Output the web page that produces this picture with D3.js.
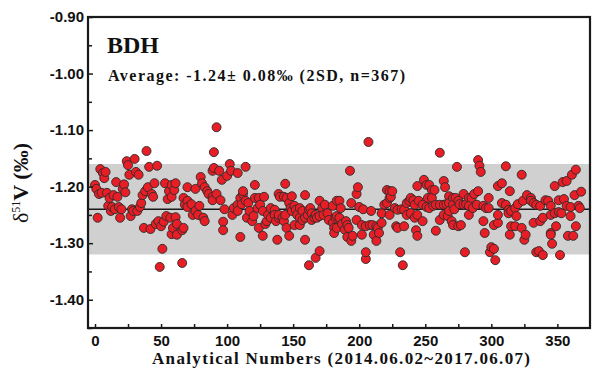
<!DOCTYPE html>
<html>
<head>
<meta charset="utf-8">
<script src="https://cdn.jsdelivr.net/npm/d3@7"></script>
<style>
  body { margin: 0; background: #fff; }
  .tick-label { font-family: "Liberation Sans", Arial, sans-serif; font-weight: bold; font-size: 15px; fill: #111; }
  .serif { font-family: "Liberation Serif", "Times New Roman", serif; font-weight: bold; fill: #111; }
</style>
</head>
<body>
<div id="chart"></div>
<script>
// Reference statistics
const average = -1.24;
const twoSD = 0.08;

// Axis ticks
const yMajorTicks = [-0.90, -1.00, -1.10, -1.20, -1.30, -1.40];
const yMinorTicks = [-0.95, -1.05, -1.15, -1.25, -1.35, -1.45];
const xTicks = [0, 25, 50, 75, 100, 125, 150, 175, 200, 225, 250, 275, 300, 325, 350];
const xLabelled = [0, 50, 100, 150, 200, 250, 300, 350];

// [analysis number, δ51V ‰]
const analyses = [
  [0,-1.197],[1,-1.204],[2,-1.255],[3,-1.213],[4,-1.169],[5,-1.211],[6,-1.176],[7,-1.185],[8,-1.174],[9,-1.211],
  [10,-1.234],[11,-1.220],[12,-1.243],[13,-1.236],[14,-1.215],[15,-1.240],[16,-1.192],[17,-1.218],[18,-1.236],[19,-1.255],
  [20,-1.240],[21,-1.204],[22,-1.196],[23,-1.210],[24,-1.155],[25,-1.162],[26,-1.179],[27,-1.252],[28,-1.240],[29,-1.243],
  [30,-1.151],[31,-1.174],[32,-1.243],[33,-1.179],[34,-1.236],[35,-1.229],[36,-1.215],[37,-1.273],[38,-1.208],[39,-1.137],
  [40,-1.201],[41,-1.165],[42,-1.275],[43,-1.213],[44,-1.218],[45,-1.194],[46,-1.266],[47,-1.163],[48,-1.261],[49,-1.342],
  [50,-1.270],[51,-1.310],[52,-1.262],[53,-1.194],[54,-1.252],[55,-1.222],[56,-1.208],
  [57,-1.255],[58,-1.197],[58,-1.218],[58,-1.284],[59,-1.273],[60,-1.206],[61,-1.194],[61,-1.254],[62,-1.266],[62,-1.285],
  [66,-1.277],[66,-1.335],[67,-1.273],[67,-1.220],[68,-1.232],[70,-1.201],[70,-1.225],[70,-1.236],[73,-1.231],[74,-1.250],
  [76,-1.243],[76,-1.204],[78,-1.250],[79,-1.234],[80,-1.183],[81,-1.194],[82,-1.255],[83,-1.201],[83,-1.261],[85,-1.208],
  [86,-1.213],[89,-1.218],[89,-1.224],[89,-1.172],[90,-1.139],[90,-1.167],[92,-1.213],[92,-1.095],[94,-1.172],[95,-1.224],
  [96,-1.188],[97,-1.262],[97,-1.277],[98,-1.240],[100,-1.181],[102,-1.160],[103,-1.172],[104,-1.250],[105,-1.238],[108,-1.176],
  [108,-1.232],[108,-1.243],[110,-1.220],[110,-1.289],[111,-1.231],[112,-1.213],[112,-1.208],[114,-1.165],[114,-1.225],[115,-1.255],
  [116,-1.229],[117,-1.243],[119,-1.261],[120,-1.252],[121,-1.220],[121,-1.197],
  [123,-1.238],[124,-1.220],[124,-1.273],[125,-1.232],[127,-1.243],[127,-1.287],[128,-1.218],[129,-1.266],[130,-1.261],[131,-1.250],
  [133,-1.255],[133,-1.238],[136,-1.241],[136,-1.250],[137,-1.261],[138,-1.294],[139,-1.255],[139,-1.250],[139,-1.213],[140,-1.218],
  [142,-1.255],[143,-1.218],[143,-1.261],[144,-1.195],[144,-1.250],[145,-1.220],[145,-1.273],[147,-1.229],[147,-1.287],[148,-1.238],
  [149,-1.217],[149,-1.243],[151,-1.234],[151,-1.268],[152,-1.241],[153,-1.250],[155,-1.255],[155,-1.268],[155,-1.238],[157,-1.243],
  [157,-1.259],[159,-1.215],[159,-1.255],[159,-1.294],[161,-1.250],[162,-1.241],[162,-1.339],[163,-1.238],[164,-1.247],[164,-1.259],
  [166,-1.255],[167,-1.250],[167,-1.326],[168,-1.255],[170,-1.252],[170,-1.225],[170,-1.314],[172,-1.238],[173,-1.250],[174,-1.232],
  [176,-1.247],[177,-1.259],[180,-1.264],[180,-1.234],[181,-1.273],[181,-1.282],[182,-1.255],[183,-1.225],[183,-1.252],[183,-1.273],
  [185,-1.225],[185,-1.255],[186,-1.238],[187,-1.266],[189,-1.276],[190,-1.261],[191,-1.268],[191,-1.289],[192,-1.273],[193,-1.172],
  [194,-1.229],[194,-1.296],[195,-1.287],[198,-1.213],[198,-1.259],[199,-1.201],[200,-1.236],[202,-1.285],[202,-1.268],[203,-1.240],
  [205,-1.270],[205,-1.328],[205,-1.316],[207,-1.121],[208,-1.268],[209,-1.243],[210,-1.268],[211,-1.285],[213,-1.270],[213,-1.296],
  [214,-1.273],[215,-1.282],[217,-1.264],[217,-1.247],[219,-1.232],[221,-1.229],[221,-1.206],[223,-1.220],[223,-1.208],[223,-1.250],
  [224,-1.218],[225,-1.208],[227,-1.238],[228,-1.270],[229,-1.241],[229,-1.273],[231,-1.316],[232,-1.240],[233,-1.339],[234,-1.241],
  [234,-1.270],[236,-1.250],[236,-1.229],[238,-1.225],[239,-1.220],[239,-1.247],[241,-1.224],[242,-1.232],[242,-1.255],[243,-1.277],
  [244,-1.250],[244,-1.199],[244,-1.287],[245,-1.225],
  [248,-1.232],[248,-1.261],[249,-1.188],[251,-1.197],[251,-1.236],[252,-1.220],[253,-1.197],[253,-1.238],[255,-1.206],[255,-1.220],
  [256,-1.234],[257,-1.206],[258,-1.232],[258,-1.278],[261,-1.140],[261,-1.232],[261,-1.259],[264,-1.190],[264,-1.232],[264,-1.250],
  [265,-1.201],[266,-1.231],[267,-1.252],[268,-1.217],[268,-1.229],[268,-1.243],[270,-1.261],[271,-1.220],[271,-1.232],[271,-1.268],
  [272,-1.240],[273,-1.220],[274,-1.165],[275,-1.225],[275,-1.270],[276,-1.231],[277,-1.268],[279,-1.213],[279,-1.232],[280,-1.316],
  [281,-1.231],[283,-1.220],[283,-1.234],[283,-1.250],[285,-1.220],[286,-1.238],[287,-1.213],[289,-1.232],[290,-1.153],[290,-1.208],
  [291,-1.163],[292,-1.174],[294,-1.234],[294,-1.261],[295,-1.282],[296,-1.238],[298,-1.220],[298,-1.238],[299,-1.316],[300,-1.307],
  [302,-1.268],[302,-1.310],[303,-1.330],[305,-1.199],[305,-1.264],[305,-1.250],[308,-1.194],[308,-1.229],
  [311,-1.164],[311,-1.232],[313,-1.241],[313,-1.247],[314,-1.208],[314,-1.285],[315,-1.243],[315,-1.270],[318,-1.238],[318,-1.270],
  [319,-1.252],[320,-1.231],[323,-1.179],[323,-1.273],[324,-1.225],[325,-1.294],[326,-1.285],[327,-1.215],[330,-1.220],[330,-1.225],
  [332,-1.229],[332,-1.264],[334,-1.232],[334,-1.316],[336,-1.314],[337,-1.234],[337,-1.261],[339,-1.255],[339,-1.321],[341,-1.224],
  [343,-1.225],[345,-1.234],[345,-1.250],[345,-1.282],[345,-1.285],[346,-1.301],[348,-1.199],[348,-1.247],[349,-1.270],[351,-1.224],
  [351,-1.245],[352,-1.321],[353,-1.247],[354,-1.192],[355,-1.222],[357,-1.190],[357,-1.234],[358,-1.287],[360,-1.236],[360,-1.252],
  [361,-1.179],[362,-1.287],[363,-1.215],[364,-1.170],[364,-1.270],[366,-1.234],[367,-1.238],[368,-1.209]
];

const W = 601, H = 369;
const plot = { left: 88, right: 590, top: 17, bottom: 328 };

const svg = d3.select("#chart").append("svg")
  .attr("width", W)
  .attr("height", H);

const x = d3.scaleLinear().domain([-5.3, 374.7]).range([plot.left, plot.right]);
const y = d3.scaleLinear().domain([-1.45, -0.90]).range([plot.bottom, plot.top]);

// 2SD band
svg.append("rect")
  .attr("x", plot.left)
  .attr("y", y(average + twoSD))
  .attr("width", plot.right - plot.left)
  .attr("height", y(average - twoSD) - y(average + twoSD))
  .attr("fill", "#d0d0d0");

// Average line
svg.append("line")
  .attr("x1", plot.left).attr("x2", plot.right)
  .attr("y1", y(average)).attr("y2", y(average))
  .attr("stroke", "#1a1a1a").attr("stroke-width", 1.6);

// Points
svg.append("g").selectAll("circle")
  .data(analyses)
  .join("circle")
  .attr("cx", d => x(d[0]))
  .attr("cy", d => y(d[1]))
  .attr("r", 4.5)
  .attr("fill", "#e81e26")
  .attr("stroke", "#2b2b2b")
  .attr("stroke-width", 0.9);

// Axes (ticks point inward)
const yAxis = svg.append("g")
  .attr("transform", `translate(${plot.left},0)`)
  .call(d3.axisLeft(y).tickValues(yMajorTicks).tickSize(-5).tickPadding(4)
    .tickFormat(d3.format(".2f")));
yAxis.select(".domain").remove();
yAxis.selectAll("line").attr("stroke", "#1a1a1a").attr("stroke-width", 1.5);
yAxis.selectAll("text").attr("class", "tick-label").text(d => d3.format(".2f")(d).replace("−", "-"));

const yMinor = svg.append("g")
  .attr("transform", `translate(${plot.left},0)`)
  .call(d3.axisLeft(y).tickValues(yMinorTicks).tickSize(-4).tickFormat(""));
yMinor.select(".domain").remove();
yMinor.selectAll("line").attr("stroke", "#1a1a1a").attr("stroke-width", 1.5);

const xAxis = svg.append("g")
  .attr("transform", `translate(0,${plot.bottom})`)
  .call(d3.axisBottom(x).tickValues(xTicks).tickSize(-4).tickPadding(7)
    .tickFormat(d => xLabelled.includes(d) ? d : ""));
xAxis.select(".domain").remove();
xAxis.selectAll("line").attr("stroke", "#1a1a1a").attr("stroke-width", 1.5);
xAxis.selectAll("text").attr("class", "tick-label");

// Frame
svg.append("rect")
  .attr("x", plot.left).attr("y", plot.top)
  .attr("width", plot.right - plot.left)
  .attr("height", plot.bottom - plot.top)
  .attr("fill", "none")
  .attr("stroke", "#1a1a1a")
  .attr("stroke-width", 2.2);

// Annotations
svg.append("text")
  .attr("class", "serif")
  .attr("x", 107).attr("y", 53)
  .style("font-size", "24px")
  .text("BDH");

svg.append("text")
  .attr("class", "serif")
  .attr("x", 108).attr("y", 81)
  .style("font-size", "16px")
  .attr("textLength", 297)
  .attr("lengthAdjust", "spacing")
  .text("Average: -1.24\u00b1 0.08\u2030 (2SD, n=367)");

// Axis titles
svg.append("text")
  .attr("class", "serif")
  .attr("x", (plot.left + plot.right) / 2 + 2).attr("y", 364)
  .attr("text-anchor", "middle")
  .style("font-size", "17px")
  .attr("textLength", 378)
  .attr("lengthAdjust", "spacing")
  .text("Analytical Numbers (2014.06.02~2017.06.07)");

const yTitle = svg.append("text")
  .attr("class", "serif")
  .attr("transform", "translate(28,183) rotate(-90)")
  .attr("text-anchor", "middle")
  .style("font-size", "22px");
yTitle.append("tspan").style("font-weight", "normal").text("\u03b4");
yTitle.append("tspan").attr("dy", -8).style("font-size", "12px").style("font-weight", "normal").text("51");
yTitle.append("tspan").attr("dy", 8).text("V (\u2030)");
</script>
</body>
</html>
